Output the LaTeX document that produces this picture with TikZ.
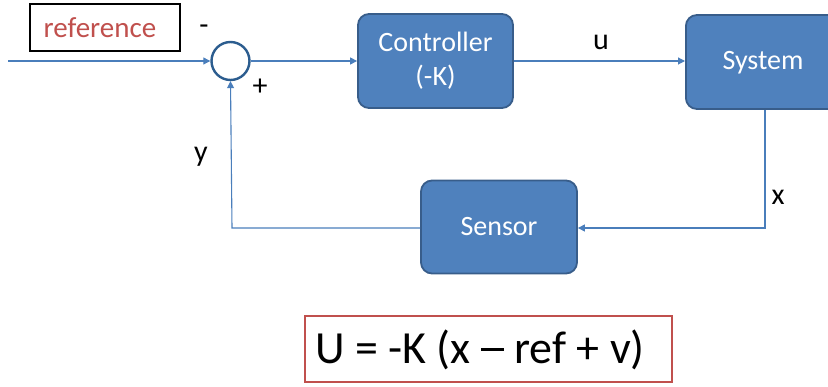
\documentclass[tikz,border=0pt]{standalone}
\usepackage{fontspec}
\setmainfont{Carlito}
\usetikzlibrary{arrows.meta}
\definecolor{boxfill}{HTML}{4F81BD}
\definecolor{boxedge}{HTML}{385D8A}
\definecolor{linecol}{HTML}{4A7EBB}
\definecolor{refred}{HTML}{C0504D}
\definecolor{circedge}{HTML}{2C5D8F}
\tikzset{
  block/.style={draw=boxedge, line width=1.8pt, fill=boxfill, rounded corners=11pt, text=white, font=\fontsize{28}{34}\selectfont, align=center, inner sep=0pt},
  conn/.style={draw=linecol, line width=1.1pt},
  arr/.style={conn, -{Triangle[length=7pt,width=7pt]}},
  lbl/.style={font=\fontsize{30}{34}\selectfont, text=black, inner sep=0pt}
}
\begin{document}
\begin{tikzpicture}[x=1pt,y=-1pt]
\useasboundingbox (0,0) rectangle (828,387);
\clip (0,0) rectangle (828,387);
% reference box
\node[draw=black, line width=2pt, minimum width=150pt, minimum height=47pt, inner sep=0pt, text=refred, font=\fontsize{29}{34}\selectfont] (ref) at (105,27.5) {\hspace*{-10pt}reference};
% summing junction
\node[draw=circedge, line width=2.4pt, circle, minimum size=38pt, inner sep=0pt] (sum) at (230.5,61) {};
\coordinate (in) at (8,61);
% blocks
\node[block, minimum width=155pt, minimum height=94pt] (ctrl) at (435.5,61) {Controller\\(-K)};
\node[block, minimum width=160pt, minimum height=94pt, anchor=west] (sys) at (685,62) {};
\node[font=\fontsize{28}{34}\selectfont, text=white] (systxt) at (763,63) {System};
\node[block, minimum width=156pt, minimum height=93pt] (sens) at (499,227) {Sensor};
% connectors
\draw[arr] (in) -- (sum.west);
\draw[arr] (sum.east) -- (ctrl.west);
\draw[arr] (ctrl.east) -- (ctrl.east -| sys.west);
\coordinate (xc) at (765,228);
\coordinate (yc) at (232,228);
\draw[arr] (sys.south -| xc) -- (xc) -- (sens.east |- xc);
\draw[arr] (sens.west |- yc) -- (yc) -- (sum.south);
% labels
\node[lbl] (minus) at (204,30) {-};
\node[lbl] (plus) at (260,87) {+};
\node[lbl] (u) at (601,42) {u};
\node[lbl] (y) at (201,157) {y};
\node[lbl] (x) at (778,197) {x};
% formula
\node[draw=refred, line width=2pt, minimum width=367pt, minimum height=66pt, inner sep=0pt] (eq) at (488.5,349.5) {};
\node[font=\fontsize{46}{50}\selectfont, inner sep=0pt] (eqtxt) at (480,350) {U = -K (x \rule[0.27em]{0.5em}{0.06em} ref + v)};
\end{tikzpicture}
\end{document}
